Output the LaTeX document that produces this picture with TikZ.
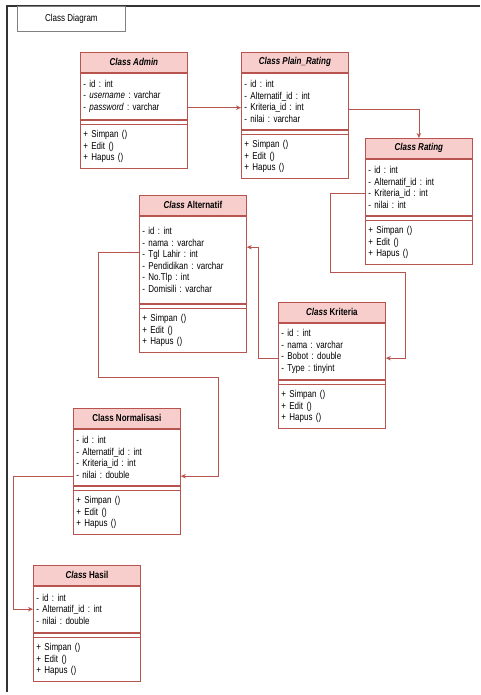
\documentclass[tikz,border=0pt]{standalone}
\usepackage{fontspec}
\setmainfont{Liberation Sans}[FakeStretch=0.8]
\usepackage{tikz}
\usetikzlibrary{arrows.meta, positioning}
\definecolor{umlred}{HTML}{B85450}
\definecolor{umlpink}{HTML}{F8CECC}
\definecolor{framegray}{HTML}{333333}

\begin{document}
\frenchspacing
\begin{tikzpicture}[x=1pt, y=-1pt, >={Stealth[length=5pt,width=4.5pt]},
  every node/.style={font=\fontsize{10}{11.5}\selectfont},
  classhead/.style={draw=umlred, fill=umlpink, line width=0.8pt, minimum width=107pt,
    minimum height=20pt, inner sep=0pt, anchor=north west,
    font=\fontsize{10}{11}\selectfont\bfseries},
  attrbox/.style={draw=umlred, fill=white, line width=0.8pt, text width=101pt,
    inner xsep=3pt, inner ysep=2pt, align=left, minimum height=#1},
  attrbox/.default=46pt,
  sepbox/.style={draw=umlred, line width=0.8pt, minimum width=107pt,
    minimum height=4pt, inner sep=0pt},
  conn/.style={->, umlred, line width=0.8pt}]
  \useasboundingbox (0,0) rectangle (480,695);

  % Frame and title
  \draw[framegray, line width=1.5pt] (480,6) -- (7,6) -- (7,692);
  \node[draw=gray, line width=0.8pt, minimum width=108pt, minimum height=25pt,
    anchor=north west] (title) at (17,6) {Class Diagram};

  % Class Admin
  \node[classhead] (adminH) at (80,52) {\itshape Class Admin};
  \node[attrbox, below=0pt of adminH] (adminA)
    {- id : int\\- \textit{username} : varchar\\- \textit{password} : varchar};
  \node[sepbox, below=0pt of adminA] (adminS) {};
  \node[attrbox=44pt, below=0pt of adminS] (adminM) {+ Simpan ()\\+ Edit ()\\+ Hapus ()};

  % Class Plain_Rating
  \node[classhead] (plainH) at (241,52) {\itshape Class Plain\_Rating};
  \node[attrbox=56pt, below=0pt of plainH] (plainA)
    {- id : int\\- Alternatif\_id : int\\- Kriteria\_id : int\\- nilai : varchar};
  \node[sepbox, below=0pt of plainA] (plainS) {};
  \node[attrbox=44pt, below=0pt of plainS] (plainM) {+ Simpan ()\\+ Edit ()\\+ Hapus ()};

  % Class Rating
  \node[classhead] (ratingH) at (365,138) {\itshape Class Rating};
  \node[attrbox=56pt, below=0pt of ratingH] (ratingA)
    {- id : int\\- Alternatif\_id : int\\- Kriteria\_id : int\\- nilai : int};
  \node[sepbox, below=0pt of ratingA] (ratingS) {};
  \node[attrbox=44pt, below=0pt of ratingS] (ratingM) {+ Simpan ()\\+ Edit ()\\+ Hapus ()};

  % Class Alternatif
  \node[classhead] (altH) at (139,195) {\textit{Class} Alternatif};
  \node[attrbox=87pt, below=0pt of altH] (altA)
    {- id : int\\- nama : varchar\\- Tgl Lahir : int\\- Pendidikan : varchar\\- No.Tlp : int\\- Domisili : varchar};
  \node[sepbox, below=0pt of altA] (altS) {};
  \node[attrbox=44pt, below=0pt of altS] (altM) {+ Simpan ()\\+ Edit ()\\+ Hapus ()};

  % Class Kriteria
  \node[classhead] (kritH) at (278,302) {\textit{Class} Kriteria};
  \node[attrbox=56pt, below=0pt of kritH] (kritA)
    {- id : int\\- nama : varchar\\- Bobot : double\\- Type : tinyint};
  \node[sepbox, below=0pt of kritA] (kritS) {};
  \node[attrbox=44pt, below=0pt of kritS] (kritM) {+ Simpan ()\\+ Edit ()\\+ Hapus ()};

  % Class Normalisasi
  \node[classhead] (normH) at (73,408) {Class Normalisasi};
  \node[attrbox=56pt, below=0pt of normH] (normA)
    {- id : int\\- Alternatif\_id : int\\- Kriteria\_id : int\\- nilai : double};
  \node[sepbox, below=0pt of normA] (normS) {};
  \node[attrbox=44pt, below=0pt of normS] (normM) {+ Simpan ()\\+ Edit ()\\+ Hapus ()};

  % Class Hasil
  \node[classhead] (hasilH) at (33,565) {\textit{Class} Hasil};
  \node[attrbox, below=0pt of hasilH] (hasilA)
    {- id : int\\- Alternatif\_id : int\\- nilai : double};
  \node[sepbox, below=0pt of hasilA] (hasilS) {};
  \node[attrbox=44pt, below=0pt of hasilS] (hasilM) {+ Simpan ()\\+ Edit ()\\+ Hapus ()};

  % Connectors
  \coordinate (ap) at ([yshift=-11.5pt]adminA.east);
  \draw[conn] (ap) -- (ap -| plainA.west);
  \draw[conn] ([yshift=-8pt]plainA.east) -| (ratingH.north);
  \coordinate (rk1) at (330,272);
  \coordinate (rk2) at (405,272);
  \draw[conn] ([yshift=-5.75pt]ratingA.west) -| (rk1) -- (rk2) |- ([yshift=-7pt]kritA.east);
  \draw[conn] ([yshift=-7pt]kritA.west) -- ++(-20,0) |- ([yshift=12.5pt]altA.east);
  \coordinate (an1) at (98,377);
  \coordinate (an2) at (218,377);
  \draw[conn] ([yshift=7.5pt]altA.west) -| (an1) -- (an2) |- ([yshift=-19pt]normA.east);
  \draw[conn] ([yshift=-19pt]normA.west) -- ++(-60,0) |- (hasilA.west);
\end{tikzpicture}
\end{document}
